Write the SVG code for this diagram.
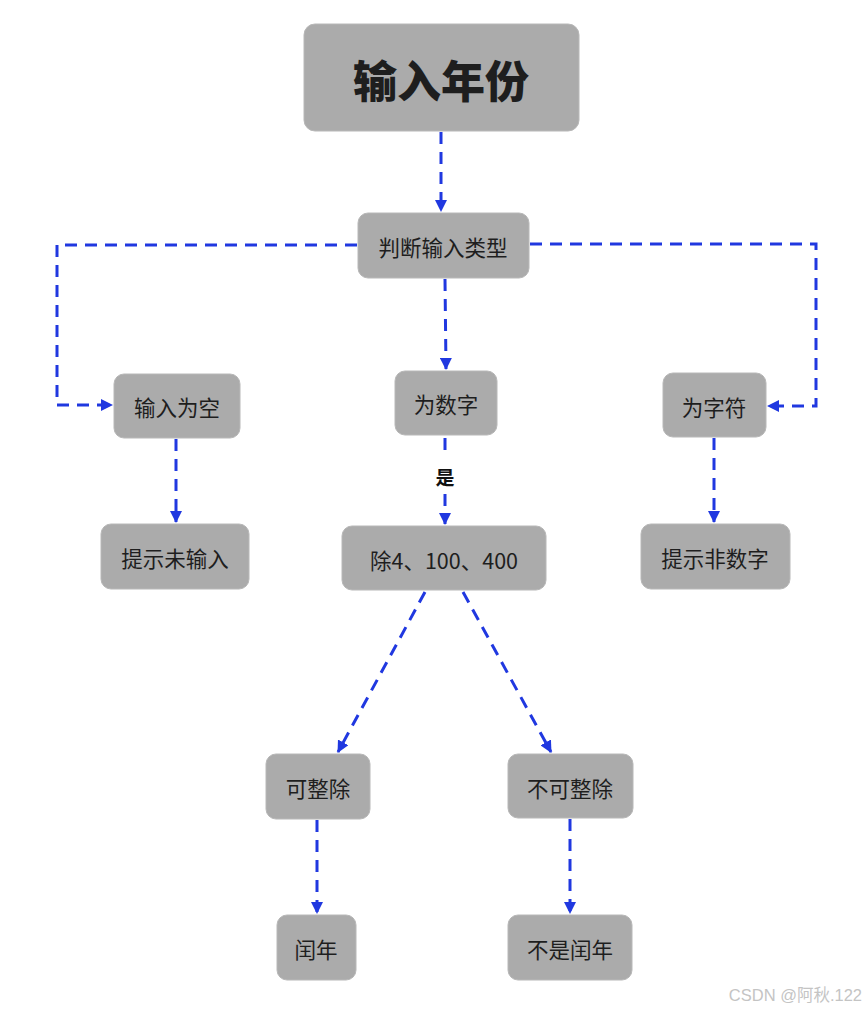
<svg xmlns="http://www.w3.org/2000/svg" width="865" height="1009" viewBox="0 0 865 1009">
<style>
.n rect{fill:#ababab;stroke:#b8b8b8;stroke-width:1}
.n text{font-family:"Noto Sans CJK SC","Noto Sans",sans-serif;font-size:21.5px;fill:#1e1e1e;text-anchor:middle;dominant-baseline:central}
.c path{fill:none;stroke:#2038e0;stroke-width:3;stroke-dasharray:12 8}
.lbl{font-family:"Noto Sans CJK SC","Noto Sans",sans-serif;font-size:19px;font-weight:bold;fill:#111;text-anchor:middle;dominant-baseline:central}
</style>
<defs>
<marker id="ah" markerWidth="12" markerHeight="12" viewBox="0 0 12 12" refX="11" refY="6" orient="auto" markerUnits="userSpaceOnUse">
<path d="M0,0 L12,6 L0,12 z" fill="#2038e0"/>
</marker>
</defs>
<rect width="865" height="1009" fill="#ffffff"/>
<g class="c">
<path d="M441,132 V211" marker-end="url(#ah)"/>
<path d="M357,245 H57 V405 H112" marker-end="url(#ah)"/>
<path d="M530,244 H816 V406 H768" marker-end="url(#ah)"/>
<path d="M445,279 L446,369" marker-end="url(#ah)"/>
<path d="M176,439 V522" marker-end="url(#ah)"/>
<path d="M445,438 V458 M445,494 V524" marker-end="url(#ah)"/>
<path d="M714,438 V522" marker-end="url(#ah)"/>
<path d="M425,592 L338,752" marker-end="url(#ah)"/>
<path d="M463,592 L551,752" marker-end="url(#ah)"/>
<path d="M317,820 V913" marker-end="url(#ah)"/>
<path d="M570,819 V913" marker-end="url(#ah)"/>
</g>
<text class="lbl" x="445" y="476">是</text>
<g id="n1" class="n"><rect x="304" y="24" width="275" height="107" rx="11"/><text x="441" y="79" style="font-size:44px;font-weight:900">输入年份</text></g>
<g id="n2" class="n"><rect x="358" y="213" width="171" height="65" rx="10"/><text x="443" y="246">判断输入类型</text></g>
<g id="n3" class="n"><rect x="114" y="374" width="126" height="64" rx="10"/><text x="177" y="406">输入为空</text></g>
<g id="n4" class="n"><rect x="395" y="371" width="102" height="64" rx="10"/><text x="446" y="403">为数字</text></g>
<g id="n5" class="n"><rect x="663" y="373" width="103" height="64" rx="10"/><text x="714" y="406">为字符</text></g>
<g id="n6" class="n"><rect x="101" y="524" width="148" height="65" rx="10"/><text x="175" y="557">提示未输入</text></g>
<g id="n7" class="n"><rect x="342" y="526" width="204" height="64" rx="10"/><text x="444" y="559">除4、100、400</text></g>
<g id="n8" class="n"><rect x="641" y="524" width="149" height="65" rx="10"/><text x="715" y="557">提示非数字</text></g>
<g id="n9" class="n"><rect x="266" y="754" width="104" height="65" rx="10"/><text x="318" y="787">可整除</text></g>
<g id="n10" class="n"><rect x="508" y="754" width="125" height="64" rx="10"/><text x="570" y="787">不可整除</text></g>
<g id="n11" class="n"><rect x="277" y="915" width="79" height="65" rx="10"/><text x="316" y="948">闰年</text></g>
<g id="n12" class="n"><rect x="508" y="915" width="124" height="65" rx="10"/><text x="570" y="948">不是闰年</text></g>
<text x="862" y="995" style="font-family:'Liberation Sans','Noto Sans CJK SC',sans-serif;font-size:16.5px;fill:#c4c4c4;text-anchor:end;dominant-baseline:central">CSDN @阿秋.122</text>
</svg>
